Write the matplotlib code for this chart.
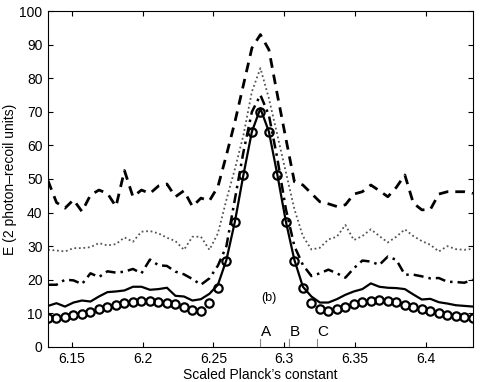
import numpy as np
import matplotlib
matplotlib.use("Agg")
import matplotlib.pyplot as plt

plt.rcParams['font.family'] = ['Liberation Sans', 'DejaVu Sans']

# x grid: scaled Planck's constant, 2*pi +/- 0.15 in steps of 0.006
x_center = 2 * np.pi
x_step = 0.006
n_pts = 51
x = x_center + x_step * (np.arange(n_pts) - 25)

circles = [8.5, 8.7, 9.0, 9.5, 9.8, 10.5, 11.2, 11.8, 12.5, 13.0, 13.5, 13.8, 13.8,
           13.5, 13.0, 12.7, 12.0, 11.1, 10.8, 13.0, 17.6, 25.7, 37.2, 51.2, 64.1,
           70.0, 64.1, 51.2, 37.2, 25.7, 17.6, 13.0, 11.3, 10.7, 11.2, 11.8, 12.7,
           13.4, 13.8, 14.0, 13.7, 13.3, 12.5, 12.0, 11.3, 10.7, 10.0, 9.5, 9.2,
           8.8, 8.5]

solid = [12.2, 13.0, 12.0, 13.2, 13.8, 13.5, 15.0, 16.3, 16.5, 16.8, 17.9, 17.9, 17.0,
         17.2, 17.6, 15.2, 15.0, 13.8, 14.2, 15.8, 18.5, 25.9, 37.3, 51.2, 64.1,
         71.0, 64.1, 51.2, 37.3, 25.9, 17.9, 15.0, 13.2, 13.2, 14.2, 15.5, 16.5,
         17.2, 18.9, 17.9, 17.6, 17.5, 17.2, 15.6, 14.1, 14.3, 13.3, 12.9, 12.4,
         12.2, 12.0]

dashdot = [18.5, 18.5, 20.0, 19.8, 18.7, 21.9, 20.8, 22.5, 22.1, 22.4, 23.2, 21.9, 26.0,
           24.3, 24.1, 22.4, 21.6, 20.2, 18.5, 20.4, 24.2, 30.0, 44.0, 58.0, 70.0,
           75.0, 69.0, 56.0, 41.0, 30.0, 24.4, 21.1, 21.9, 23.0, 21.9, 20.6, 23.4,
           25.7, 25.4, 24.4, 26.9, 25.9, 21.5, 21.5, 21.0, 20.4, 20.5, 19.4, 19.3,
           19.1, 20.0]

dotted = [28.9, 28.7, 28.4, 29.4, 29.4, 29.7, 30.9, 30.2, 30.6, 32.6, 31.3, 34.3, 34.5,
          33.8, 32.5, 31.5, 28.9, 32.8, 32.8, 28.9, 33.8, 43.8, 53.0, 63.0, 76.0,
          83.0, 74.0, 63.0, 52.0, 41.0, 33.0, 29.0, 29.5, 32.0, 32.8, 36.3, 31.8,
          33.0, 35.0, 33.0, 31.1, 32.8, 35.0, 33.0, 31.5, 30.4, 28.4, 30.0, 29.1,
          28.9, 29.2]

dashed = [49.5, 43.0, 41.3, 43.8, 40.3, 45.2, 46.7, 45.7, 41.8, 52.5, 44.7, 46.7, 45.7,
          47.9, 48.5, 44.7, 46.5, 41.8, 44.3, 43.5, 47.7, 57.1, 67.0, 78.0, 89.0,
          93.0, 88.5, 75.0, 62.0, 49.2, 48.2, 45.7, 43.2, 42.6, 41.8, 42.3, 45.5,
          46.2, 48.2, 46.5, 44.7, 47.5, 51.2, 42.8, 40.8, 40.9, 45.5, 46.2, 46.2,
          46.2, 45.7]

xticks = [6.15, 6.2, 6.25, 6.3, 6.35, 6.4]
xtick_labels = ['6.15', '6.2', '6.25', '6.3', '6.35', '6.4']
yticks = list(range(0, 101, 10))
mark_labels = ['A', 'B', 'C']
mark_x = [2 * np.pi, 2 * np.pi + 0.02, 2 * np.pi + 0.04]

fig = plt.figure(figsize=(4.8, 3.82), dpi=100)
ax = fig.add_axes([0.100, 0.092, 0.885, 0.879])

ax.plot(x, dashed, color='black', lw=2.0, ls=(0, (3.5, 2.5)))
ax.plot(x, dotted, color='#555555', lw=1.3, ls=(0, (1, 1.5)))
ax.plot(x, dashdot, color='black', lw=1.8, ls=(0, (4, 2, 1, 2)))
ax.plot(x, solid, color='black', lw=1.6, ls='-')
ax.plot(x, circles, ls='none', marker='o', ms=6, mfc='none', mec='black', mew=1.6)

for lab, xm in zip(mark_labels, mark_x):
    ax.plot([xm, xm], [0, 2.2], color='#888888', lw=0.8)
    ax.text(xm + 0.0004, 2.3, lab, fontsize=11, ha='left', va='bottom')

ax.text(6.289, 14.6, '(b)', fontsize=9, ha='center', va='center')

ax.set_xlim(2 * np.pi - 0.15, 2 * np.pi + 0.15)
ax.set_ylim(0, 100)
ax.set_xticks(xticks)
ax.set_xticklabels(xtick_labels)
ax.set_yticks(yticks)
ax.tick_params(direction='in', top=True, right=True, length=3.5, width=0.8,
               labelsize=10, pad=4)
for s in ax.spines.values():
    s.set_linewidth(0.8)

ax.set_xlabel('Scaled Planck\u2019s constant', fontsize=10, labelpad=1)
ax.set_ylabel('E (2 photon\u2013recoil units)', fontsize=10, labelpad=2)

fig.savefig('out.png', dpi=100)
